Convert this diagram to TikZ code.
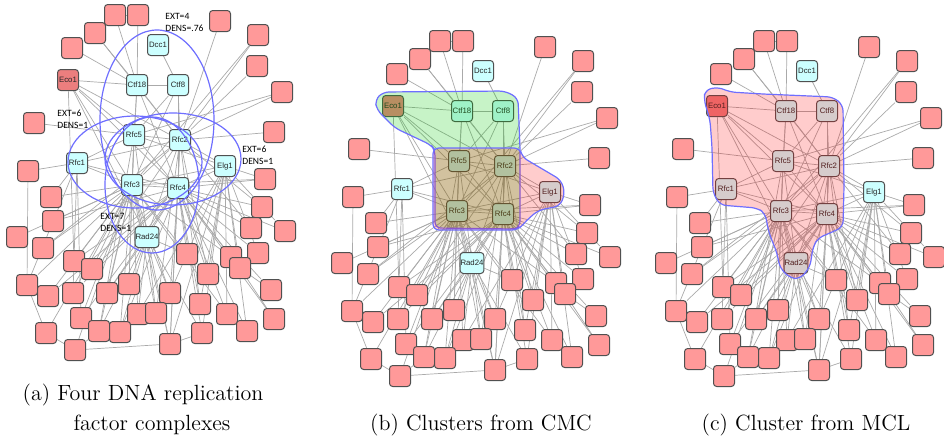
\documentclass[tikz,border=0pt]{standalone}
\usepackage{fontspec}
\usetikzlibrary{positioning}
\newfontfamily\netfont{Liberation Sans}
\newfontfamily\extfont{Carlito}
\pgfdeclarelayer{background}
\pgfdeclarelayer{foreground}
\pgfsetlayers{background,main,foreground}
\definecolor{nodepink}{RGB}{255,153,153}
\definecolor{ecopink}{RGB}{236,126,126}
\definecolor{nodecyan}{RGB}{204,255,255}
\definecolor{nodeborder}{RGB}{80,80,80}
\definecolor{edgegray}{RGB}{170,170,170}
\definecolor{ringblue}{RGB}{110,110,255}
\definecolor{cmcgreen}{RGB}{0,200,0}
\definecolor{clusterred}{RGB}{255,0,0}

\tikzset{
  pinkbox/.style={draw=nodeborder, line width=0.5pt, fill=nodepink, rounded corners=1.6pt,
    minimum size=10.5pt, inner sep=0.2pt},
  hubbox/.style={pinkbox, fill=nodecyan, text=black!85, font=\netfont\fontsize{3.9}{4}\selectfont},
  ecobox/.style={hubbox, fill=ecopink},
  netedge/.style={draw=edgegray, line width=0.35pt},
  ringline/.style={draw=ringblue, line width=0.6pt},
  extlabel/.style={font=\extfont\fontsize{4.8}{6}\selectfont, align=left, anchor=north west, inner sep=0pt},
  capline/.style={font=\fontsize{11}{13}\selectfont, inner sep=0pt}
}

% one copy of the network, node names get prefix #1
\newcommand{\drawnet}[1]{%
  \foreach \n/\x/\y in {p1/115/15, p2/138/15, p3/95/33, p4/72/48, p5/220/21, p6/258/35,
      p7/257/66, p8/282/92, p9/34/123, p10/274/132, p11/28/171, p12/265/179, p13/51/197,
      p14/262/207, p15/53/221, p16/17/237, p17/251/228, p18/285/231, p19/43/248,
      p20/187/254, p21/258/253, p22/74/261, p23/231/257, p24/92/269, p25/240/268,
      p26/208/274, p27/271/290, p28/27/285, p29/48/296, p30/73/293, p31/107/293,
      p32/129/284, p33/170/293, p34/200/304, p35/81/318, p36/138/314, p37/156/313,
      p38/227/314, p39/274/319, p40/46/333, p41/99/331, p42/120/332, p43/202/333,
      p44/247/331, p45/75/350, p46/170/344}
    \node[pinkbox] (#1\n) at (\x,\y) {};
  \foreach \n/\x/\y in {Dcc1/158/45, Ctf18/137/85, Ctf8/178/85, Rfc5/134/135, Rfc2/180/140,
      Rfc1/77/163, Rfc3/132/185, Rfc4/178/188, Elg1/225/166, Rad24/147/237}
    \node[hubbox] (#1\n) at (\x,\y) {\n};
  \node[ecobox] (#1Eco1) at (68,80) {Eco1};
  \begin{pgfonlayer}{background}
    \foreach \u/\v in {Dcc1/Ctf8, Ctf18/Ctf8, Eco1/Ctf18, Eco1/Rfc5, Eco1/Rfc2, Eco1/Rfc3,
        Eco1/Rfc4, Eco1/Rad24, Eco1/p22, Ctf18/Rfc5, Ctf18/Rfc2, Ctf18/Rfc3, Ctf18/Rfc4,
        Ctf8/Rfc5, Ctf8/Rfc2, Ctf8/Rfc3, Ctf8/Rfc4, Rfc5/Rfc2, Rfc5/Rfc3, Rfc5/Rfc4,
        Rfc2/Rfc3, Rfc2/Rfc4, Rfc3/Rfc4, Rfc1/Rfc5, Rfc1/Rfc2, Rfc1/Rfc3, Rfc1/Rfc4,
        Elg1/Rfc2, Elg1/Rfc3, Elg1/Rfc4, Elg1/Rfc5, Rad24/Rfc2, Rad24/Rfc3, Rad24/Rfc4,
        Rad24/Rfc5, p1/p2, p1/Ctf18, p2/Ctf18, p3/Ctf18, p4/Ctf18, p3/Rfc2,
        p5/Rfc2, p6/Rfc2, p7/Rfc2, p8/Rfc2, p6/Rfc3, p10/Rfc2, p8/Rfc5, p9/Rfc5,
        p11/Rfc1, p11/p28, p12/Elg1, p12/Rfc4, p12/Rfc3, p13/Rfc1, p13/Rfc3,
        p14/Rfc4, p14/Rfc2, p15/Rfc3, p15/Rfc4, p16/Rfc3, p17/Rfc4, p17/Rfc2,
        p18/Rfc4, p18/Elg1, p19/Rfc3, p19/Rfc2, p20/Rad24, p20/Rfc4, p20/Rfc3,
        p21/Rfc4, p21/Elg1, p22/Rfc3, p22/Rfc4, p23/Rfc4, p23/Rfc3, p24/Rfc3,
        p24/Rfc4, p24/Rfc2, p25/Elg1, p25/Rfc4, p26/Rfc4, p26/Elg1, p26/Rfc2,
        p27/p25, p27/Rfc4, p28/Rfc3, p28/Rfc1, p28/p40, p29/Rfc3, p29/p28, p29/Rfc4,
        p30/Rfc3, p30/Rfc4, p30/Rfc1, p31/Rfc3, p31/Rad24, p31/Rfc4, p32/Rad24,
        p32/Rfc3, p32/Rfc5, p33/Rad24, p33/Rfc3, p33/Rfc4, p33/Elg1, p34/Rfc4,
        p34/Elg1, p34/Rfc2, p35/Rfc3, p35/Rfc1, p35/Rfc4, p36/Rad24, p36/Rfc3,
        p36/Elg1, p37/Rad24, p37/Rfc3, p37/Rfc2, p38/Elg1, p38/Rfc4, p38/Rfc3,
        p39/p25, p39/Rfc4, p40/Rfc3, p40/p45, p41/Rfc3, p41/Rfc5, p41/Rad24,
        p42/Rfc3, p42/Rad24, p42/Rfc4, p43/Elg1, p43/Rfc4, p43/Rad24, p43/p46,
        p44/Elg1, p44/p38, p44/Rfc4, p45/p41, p45/p46, p45/Rfc3, p46/Rfc3,
        p46/Rfc4, p46/Rad24, p46/Elg1, p46/Rfc2}
      \draw[netedge] (#1\u) -- (#1\v);
  \end{pgfonlayer}
}

\begin{document}
\begin{tikzpicture}[x=0.5pt, y=-0.5pt]
  \useasboundingbox (0,0) rectangle (944,441);

  % (a) four complexes
  \begin{scope}
    \drawnet{a}
    \begin{pgfonlayer}{foreground}
      \draw[ringline] (157,120) ellipse [x radius=57, y radius=90];
      \draw[ringline] (135,162) ellipse [x radius=67, y radius=46];
      \draw[ringline] (173,159) ellipse [x radius=68, y radius=46];
      \draw[ringline] (152,185) ellipse [x radius=47, y radius=68];
    \end{pgfonlayer}
    \node[extlabel] (extA) at (165,13) {EXT=4\\DENS=.76};
    \node[extlabel] (extB) at (57,110) {EXT=6\\DENS=1};
    \node[extlabel] (extC) at (242,146) {EXT=6\\DENS=1};
    \node[extlabel] (extD) at (100,213) {EXT=7\\DENS=1};
  \end{scope}

  % (b) CMC clusters
  \begin{scope}[shift={(325,26)}]
    \drawnet{b}
    \begin{pgfonlayer}{foreground}
      \draw[ringline, fill=cmcgreen, fill opacity=0.22, rounded corners=3pt]
        (50,74) -- (58,66) -- (180,65) -- (193,72) -- (195,122) -- (195,201)
        -- (190,203) -- (110,202) -- (110,124) -- (106,119) -- (70,102) -- (52,84) -- cycle;
      \draw[ringline, fill=clusterred, fill opacity=0.2, rounded corners=3pt]
        (108,122) -- (195,122) -- (197,131) -- (236,154) -- (240,167) -- (235,180)
        -- (214,184) -- (204,192) -- (193,204) -- (108,204) -- cycle;
    \end{pgfonlayer}
  \end{scope}

  % (c) MCL cluster
  \begin{scope}[shift={(649,26)}]
    \drawnet{c}
    \begin{pgfonlayer}{foreground}
      \draw[ringline, fill=clusterred, fill opacity=0.2, rounded corners=3pt]
        (56,64) -- (69,61) -- (81,66) -- (114,68) -- (184,71) -- (194,79) -- (195,161)
        -- (194,201) -- (181,207) -- (169,212) -- (164,221) -- (161,241) -- (151,253)
        -- (141,252) -- (131,242) -- (128,227) -- (120,207) -- (116,187) -- (108,182)
        -- (71,179) -- (64,167) -- (63,121) -- (61,94) -- (55,74) -- cycle;
    \end{pgfonlayer}
  \end{scope}

  \node[capline] (capA1) at (143,395) {(a) Four DNA replication};
  \node[capline] (capA2) at (152,425) {factor complexes};
  \node[capline] (capB) at (481,425) {(b) Clusters from CMC};
  \node[capline] (capC) at (806,425) {(c) Cluster from MCL};
\end{tikzpicture}
\end{document}
